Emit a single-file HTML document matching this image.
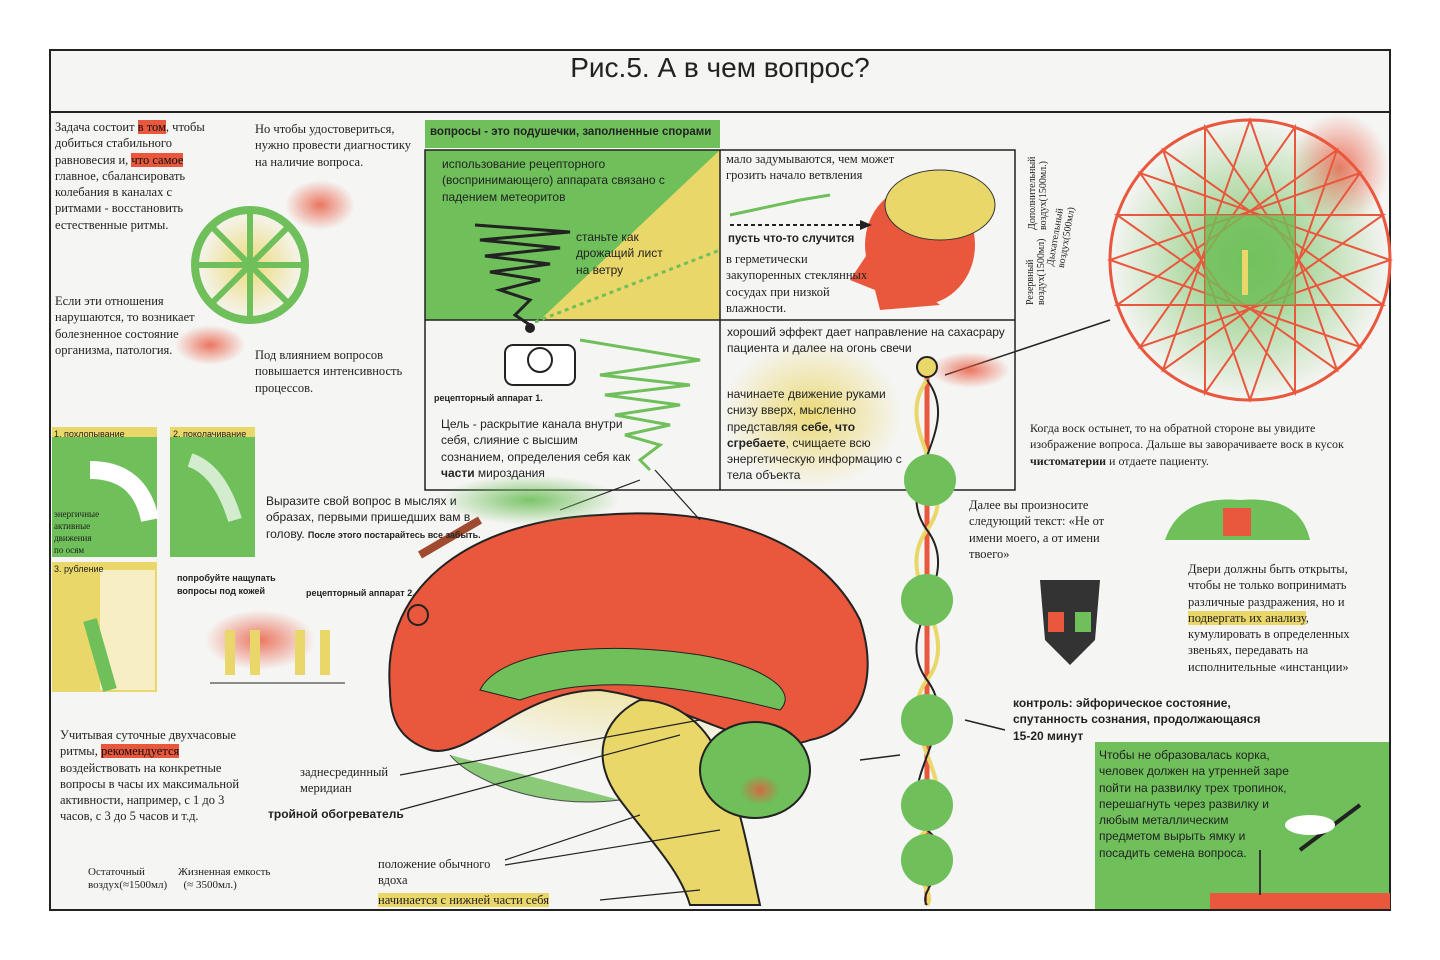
<!DOCTYPE html>
<html><head><meta charset="utf-8"><style>
body{margin:0;width:1440px;height:960px;background:#fff;position:relative;overflow:hidden;font-family:"Liberation Serif",serif;color:#222}
.t{position:absolute;font-size:12.5px;line-height:16.3px}
.s{font-family:"Liberation Sans",sans-serif}
.hr{background:#e9573d;color:#111}
.hy{background:#ead76a}
b{font-weight:bold}
</style></head><body>
<svg width="1440" height="960" style="position:absolute;left:0;top:0">
<defs>
<radialGradient id="rg"><stop offset="0" stop-color="#e9573d" stop-opacity=".8"/><stop offset="1" stop-color="#e9573d" stop-opacity="0"/></radialGradient>
<radialGradient id="gg"><stop offset="0" stop-color="#6fbf5a" stop-opacity=".9"/><stop offset="1" stop-color="#6fbf5a" stop-opacity="0"/></radialGradient>
<radialGradient id="yg"><stop offset="0" stop-color="#ead76a" stop-opacity=".9"/><stop offset="1" stop-color="#ead76a" stop-opacity="0"/></radialGradient>
</defs>
<rect x="50" y="50" width="1340" height="860" fill="#f5f5f3" stroke="#222" stroke-width="2"/>
<line x1="50" y1="112" x2="1390" y2="112" stroke="#222" stroke-width="2"/>
<rect x="1290" y="113" width="99" height="110" fill="url(#rg)"/>
<circle cx="250" cy="265" r="55" fill="url(#yg)"/>
<circle cx="250" cy="265" r="55" fill="none" stroke="#6fbf5a" stroke-width="8"/>
<g stroke="#6fbf5a" stroke-width="6"><line x1="250" y1="210" x2="250" y2="320"/><line x1="195" y1="265" x2="305" y2="265"/><line x1="211" y1="226" x2="289" y2="304"/><line x1="289" y1="226" x2="211" y2="304"/></g>
<ellipse cx="320" cy="205" rx="35" ry="25" fill="url(#rg)"/>
<ellipse cx="210" cy="345" rx="35" ry="20" fill="url(#rg)"/>
<rect x="425" y="120" width="295" height="28" fill="#6fbf5a"/>
<rect x="425" y="150" width="295" height="170" fill="#6fbf5a"/>
<polygon points="720,150 720,320 540,320" fill="#ead76a"/>
<rect x="425" y="150" width="590" height="340" fill="none" stroke="#222" stroke-width="1.5"/>
<line x1="425" y1="320" x2="1015" y2="320" stroke="#222" stroke-width="1.5"/>
<line x1="720" y1="150" x2="720" y2="490" stroke="#222" stroke-width="1.5"/>
<rect x="722" y="340" width="180" height="148" fill="url(#yg)"/>
<g stroke="#222" stroke-width="3" fill="none"><path d="M475 225 L570 232 L480 240 L560 248 L485 256 L550 264 L490 272 L540 280 L500 290 L530 300 L515 315 L530 325"/></g>
<circle cx="530" cy="328" r="5" fill="#222"/>
<path d="M535 322 L720 250" stroke="#6fbf5a" stroke-width="3" stroke-dasharray="4 4"/>
<path d="M580 340 L700 360 L600 375 L690 385 L605 395 L680 405 L615 415 L670 425 L625 435 L660 445 L640 460 L650 470" stroke="#6fbf5a" stroke-width="3" fill="none"/>
<rect x="505" y="345" width="70" height="40" rx="8" fill="#fff" stroke="#222" stroke-width="2"/>
<circle cx="540" cy="360" r="12" fill="none" stroke="#222" stroke-width="2"/>
<ellipse cx="920" cy="245" rx="55" ry="60" fill="#e9573d"/>
<ellipse cx="940" cy="205" rx="55" ry="35" fill="#ead76a" stroke="#333"/>
<path d="M870 250 L850 280 L875 290 L880 310 L940 305 Z" fill="#e9573d"/>
<path d="M730 225 L860 225" stroke="#222" stroke-width="2" stroke-dasharray="4 3"/>
<polygon points="860,220 872,225 860,230" fill="#222"/>
<path d="M730 215 L800 200 L830 195" stroke="#6fbf5a" stroke-width="3" fill="none"/>
<circle cx="1250" cy="260" r="140" fill="url(#gg)" stroke="#e9573d" stroke-width="3"/>
<g stroke="#e9573d" stroke-width="2" fill="none">
<polygon points="1250,120 1337,370 1117,215 1383,215 1163,370"/>
<polygon points="1250,400 1163,150 1383,305 1117,305 1337,150"/>
<polygon points="1390,260 1140,173 1295,393 1295,127 1140,347"/>
<polygon points="1110,260 1360,347 1205,127 1205,393 1360,173"/>
</g>
<rect x="1205" y="215" width="90" height="90" fill="#6fbf5a" opacity=".8"/>
<line x1="1245" y1="250" x2="1245" y2="295" stroke="#ead76a" stroke-width="6"/>
<path d="M945 375 L1110 320" stroke="#222" stroke-width="1.5"/>
<ellipse cx="970" cy="370" rx="40" ry="18" fill="url(#rg)"/>
<line x1="927" y1="360" x2="927" y2="905" stroke="#e9573d" stroke-width="5"/>
<path d="M927 380 C890 430 965 480 927 530 C890 580 965 630 927 680 C890 730 965 780 927 830 C890 860 940 890 927 905" stroke="#ead76a" stroke-width="4" fill="none"/>
<path d="M927 380 C965 430 890 480 927 530 C965 580 890 630 927 680 C965 730 890 780 927 830 C965 860 915 890 927 905" stroke="#222" stroke-width="2" fill="none"/>
<circle cx="927" cy="367" r="10" fill="#ead76a" stroke="#222" stroke-width="2"/>
<g fill="#6fbf5a"><circle cx="930" cy="480" r="26"/><circle cx="927" cy="600" r="26"/><circle cx="927" cy="720" r="26"/><circle cx="927" cy="805" r="26"/><circle cx="927" cy="860" r="26"/></g>
<ellipse cx="630" cy="640" rx="240" ry="120" fill="url(#yg)"/>
<path d="M390 690 C380 580 480 520 600 515 C720 505 820 540 860 620 C880 680 860 730 810 740 C760 760 680 700 600 690 C520 690 470 760 430 750 C400 740 390 720 390 690 Z" fill="#e9573d" stroke="#222" stroke-width="2"/>
<path d="M480 690 C500 650 600 640 700 655 C760 665 800 690 780 710 C700 690 600 670 520 700 Z" fill="#6fbf5a" stroke="#222"/>
<path d="M640 700 C600 720 590 760 620 800 C650 840 680 870 690 905 L760 905 C750 860 740 800 720 760 C710 730 680 700 640 700 Z" fill="#ead76a" stroke="#222" stroke-width="2"/>
<ellipse cx="755" cy="770" rx="55" ry="48" fill="#6fbf5a" stroke="#222" stroke-width="2"/>
<ellipse cx="760" cy="790" rx="20" ry="15" fill="url(#rg)"/>
<path d="M450 755 C470 780 540 810 620 800" stroke="#222" fill="#6fbf5a" opacity=".8"/>
<path d="M480 520 L420 555" stroke="#a04a30" stroke-width="8"/>
<circle cx="418" cy="615" r="10" fill="none" stroke="#222" stroke-width="2"/>
<g stroke="#222" stroke-width="1.2"><line x1="400" y1="775" x2="700" y2="720"/><line x1="400" y1="810" x2="680" y2="735"/><line x1="505" y1="865" x2="720" y2="830"/><line x1="505" y1="860" x2="640" y2="815"/><line x1="600" y1="900" x2="700" y2="890"/><line x1="640" y1="480" x2="560" y2="510"/><line x1="655" y1="470" x2="700" y2="520"/></g>
<ellipse cx="530" cy="500" rx="90" ry="25" fill="url(#gg)"/>
<ellipse cx="260" cy="640" rx="55" ry="30" fill="url(#rg)"/>
<g fill="#ead76a"><rect x="225" y="630" width="10" height="45"/><rect x="250" y="630" width="10" height="45"/><rect x="295" y="630" width="10" height="45"/><rect x="320" y="630" width="10" height="45"/></g>
<line x1="210" y1="683" x2="345" y2="683" stroke="#222"/>
<rect x="52" y="427" width="105" height="130" fill="#6fbf5a"/>
<rect x="52" y="427" width="105" height="10" fill="#ead76a"/>
<rect x="170" y="427" width="85" height="130" fill="#6fbf5a"/>
<rect x="170" y="427" width="85" height="10" fill="#ead76a"/>
<rect x="52" y="562" width="105" height="130" fill="#ead76a"/>
<rect x="100" y="570" width="55" height="120" fill="#fff" opacity=".6"/>
<path d="M90 620 L110 690" stroke="#6fbf5a" stroke-width="14"/>
<path d="M90 470 Q140 470 150 520" stroke="#fff" stroke-width="18" fill="none"/>
<path d="M190 460 Q220 470 235 520" stroke="#fff" stroke-width="14" fill="none" opacity=".7"/>
<path d="M1040 580 L1100 580 L1095 640 L1070 665 L1045 640 Z" fill="#333"/>
<rect x="1048" y="612" width="16" height="20" fill="#e9573d"/><rect x="1075" y="612" width="16" height="20" fill="#6fbf5a"/>
<path d="M1165 540 Q1180 495 1240 500 Q1300 495 1310 540 Z" fill="#6fbf5a"/>
<rect x="1223" y="508" width="28" height="28" fill="#e9573d"/>
<rect x="1095" y="742" width="294" height="167" fill="#6fbf5a"/>
<rect x="1210" y="893" width="180" height="16" fill="#e9573d"/>
<line x1="1300" y1="850" x2="1360" y2="805" stroke="#222" stroke-width="4"/>
<ellipse cx="1310" cy="825" rx="25" ry="10" fill="#fff"/>
<line x1="1260" y1="895" x2="1260" y2="850" stroke="#333" stroke-width="2"/>
<path d="M860 760 L900 755 M965 720 L1005 730" stroke="#222" stroke-width="1.5"/>
</svg>
<div class="t s" style="left:0;width:1440px;top:50px;text-align:center;font-size:28px;line-height:36px">Рис.5. А в чем вопрос?</div>
<div class="t" style="left:55px;top:119px;width:150px">Задача состоит <span class="hr">в том</span>, чтобы добиться стабильного равновесия и, <span class="hr">что самое</span> главное, сбалансировать колебания в каналах с ритмами - восстановить естественные ритмы.</div>
<div class="t" style="left:255px;top:121px;width:160px">Но чтобы удостовериться, нужно провести диагностику на наличие вопроса.</div>
<div class="t" style="left:55px;top:293px;width:160px">Если эти отношения нарушаются, то возникает болезненное состояние организма, патология.</div>
<div class="t" style="left:255px;top:347px;width:170px">Под влиянием вопросов повышается интенсивность процессов.</div>
<div class="t s" style="left:430px;top:124px;font-size:11.5px"><b>вопросы - это подушечки, заполненные спорами</b></div>
<div class="t s" style="left:442px;top:156px;width:260px;font-size:12px">использование рецепторного (воспринимающего) аппарата связано с падением метеоритов</div>
<div class="t s" style="left:576px;top:229px;width:100px;font-size:12px">станьте как дрожащий лист на ветру</div>
<div class="t" style="left:726px;top:151px;width:190px">мало задумываются, чем может грозить начало ветвления</div>
<div class="t s" style="left:728px;top:231px;font-size:11.5px"><b>пусть что-то случится</b></div>
<div class="t" style="left:726px;top:251px;width:160px">в герметически закупоренных стеклянных сосудах при низкой влажности.</div>
<div class="t s" style="left:434px;top:390px;font-size:9px"><b>рецепторный аппарат 1.</b></div>
<div class="t s" style="left:441px;top:416px;width:190px;font-size:12px">Цель - раскрытие канала внутри себя, слияние с высшим сознанием, определения себя как <b>части</b> мироздания</div>
<div class="t s" style="left:727px;top:324px;width:290px;font-size:12px">хороший эффект дает направление на сахасрару пациента и далее на огонь свечи</div>
<div class="t s" style="left:727px;top:386px;width:175px;font-size:12px">начинаете движение руками снизу вверх, мысленно представляя <b>себе, что сгребаете</b>, счищаете всю энергетическую информацию с тела объекта</div>
<div class="t" style="left:1030px;top:420px;width:340px;font-size:12px">Когда воск остынет, то на обратной стороне вы увидите изображение вопроса. Дальше вы заворачиваете воск в кусок <b>чистоматерии</b> и отдаете пациенту.</div>
<div class="t s" style="left:54px;top:426px;font-size:9px">1. похлопывание</div>
<div class="t s" style="left:173px;top:426px;font-size:9px">2. поколачивание</div>
<div class="t s" style="left:54px;top:561px;font-size:9px">3. рубление</div>
<div class="t" style="left:54px;top:508px;font-size:9px;line-height:12px">энергичные<br>активные<br>движения<br>по осям</div>
<div class="t s" style="left:266px;top:493px;width:220px;font-size:12px">Выразите свой вопрос в мыслях и образах, первыми пришедших вам в голову. <b style="font-size:9px">После этого постарайтесь все забыть.</b></div>
<div class="t s" style="left:177px;top:572px;font-size:9px;line-height:13px"><b>попробуйте нащупать<br>вопросы под кожей</b></div>
<div class="t s" style="left:306px;top:585px;font-size:9px"><b>рецепторный аппарат 2.</b></div>
<div class="t" style="left:969px;top:497px;width:155px">Далее вы произносите следующий текст: «Не от имени моего, а от имени твоего»</div>
<div class="t" style="left:1188px;top:561px;width:185px">Двери должны быть открыты, чтобы не только вопринимать различные раздражения, но и <span class="hy">подвергать их анализу</span>, кумулировать в определенных звеньях, передавать на исполнительные «инстанции»</div>
<div class="t s" style="left:1013px;top:695px;width:260px;font-size:12px"><b>контроль: эйфорическое состояние, спутанность сознания, продолжающаяся 15-20 минут</b></div>
<div class="t" style="left:60px;top:727px;width:200px">Учитывая суточные двухчасовые ритмы, <span class="hr">рекомендуется</span> воздействовать на конкретные вопросы в часы их максимальной активности, например, с 1 до 3 часов, с 3 до 5 часов и т.д.</div>
<div class="t" style="left:300px;top:764px;width:110px">заднесрединный меридиан</div>
<div class="t s" style="left:268px;top:806px;font-size:12px"><b>тройной обогреватель</b></div>
<div class="t" style="left:378px;top:856px;width:140px">положение обычного вдоха</div>
<div class="t" style="left:378px;top:892px"><span class="hy">начинается с нижней части себя</span></div>
<div class="t" style="left:88px;top:866px;font-size:11px;line-height:13px">Остаточный<br>воздух(≈1500мл)</div>
<div class="t" style="left:178px;top:866px;font-size:11px;line-height:13px">Жизненная емкость<br>&nbsp;&nbsp;(≈ 3500мл.)</div>
<div class="t s" style="left:1099px;top:747px;width:190px;font-size:12px">Чтобы не образовалась корка, человек должен на утренней заре пойти на развилку трех тропинок, перешагнуть через развилку и любым металлическим предметом вырыть ямку и посадить семена вопроса.</div>
<div class="t" style="left:1025px;top:305px;transform:rotate(-90deg);transform-origin:0 0;font-size:10px;line-height:11px;width:170px">Резервный<br>воздух(1500мл)</div>
<div class="t" style="left:1027px;top:230px;transform:rotate(-90deg);transform-origin:0 0;font-size:10px;line-height:11px;width:110px">Дополнительный<br>воздух(1500мл.)</div>
<div class="t" style="left:1045px;top:265px;transform:rotate(-80deg);transform-origin:0 0;font-size:10px;line-height:11px;width:60px">Дыхательный<br>воздух(500мл)</div>
</body></html>
